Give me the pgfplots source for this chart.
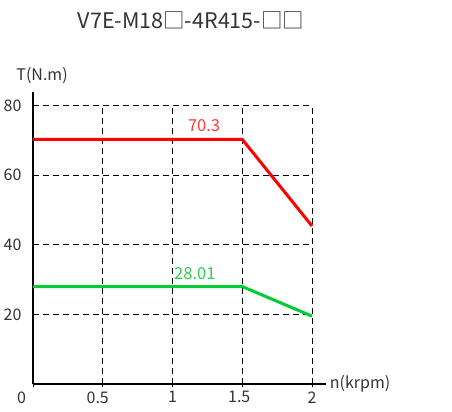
\documentclass[border=0pt]{standalone}
\usepackage{fontspec}
\setmainfont{Noto Sans CJK SC}
\usepackage{pgfplots}
\pgfplotsset{compat=1.18}
\definecolor{redline}{HTML}{FF0000}
\definecolor{greenline}{HTML}{00CC33}
\definecolor{redtxt}{HTML}{FF3B3B}
\definecolor{greentxt}{HTML}{2ECC55}
\definecolor{txt}{HTML}{333333}
\begin{document}
\begin{tikzpicture}[x=1bp,y=1bp]
\useasboundingbox (0,0) rectangle (452,411);
\node[text=txt,font=\fontsize{21.5bp}{24bp}\selectfont] at (191,391) {V7E-M18□-4R415-□□};
\begin{axis}[
  at={(33bp,27bp)}, anchor=origin,
  x=139.5bp, y=3.48bp,
  xmin=0, xmax=2.1, ymin=0, ymax=84,
  axis lines=left,
  axis line style={line width=2.2bp, black, -},
  xtick={0,0.5,1,1.5,2},
  xticklabels={\makebox[0pt][r]{0\hspace{7bp}},\makebox[0pt]{0.5\hspace{10bp}},1,\makebox[0pt]{1.5\hspace{6bp}},2},
  ytick={20,40,60,80},
  tick align=outside,
  major tick length=3bp,
  xtick style={black, line width=1bp},
  ytick style={draw=none},
  tick label style={text=txt, font=\fontsize{16bp}{18bp}\selectfont},
  /pgf/number format/assume math mode=true,
  xticklabel style={yshift=-1bp},
  yticklabel style={xshift=-5bp},
  clip=false,
]
% grid
\addplot[black, line width=0.9bp, dash pattern=on 6bp off 4bp] coordinates {(0,20) (2,20)};
\addplot[black, line width=0.9bp, dash pattern=on 6bp off 4bp] coordinates {(0,40) (2,40)};
\addplot[black, line width=0.9bp, dash pattern=on 6bp off 4bp] coordinates {(0,60) (2,60)};
\addplot[black, line width=0.9bp, dash pattern=on 6bp off 4bp] coordinates {(0,80) (2,80)};
\addplot[black, line width=0.9bp, dash pattern=on 6bp off 4bp] coordinates {(0.5,0) (0.5,80)};
\addplot[black, line width=0.9bp, dash pattern=on 6bp off 4bp] coordinates {(1,0) (1,80)};
\addplot[black, line width=0.9bp, dash pattern=on 6bp off 4bp] coordinates {(1.5,0) (1.5,80)};
\addplot[black, line width=0.9bp, dash pattern=on 6bp off 4bp] coordinates {(2,0) (2,80)};
% data
\addplot[redline, line width=3bp] coordinates {(0,70.3) (1.5,70.3) (2,45.4)};
\addplot[greenline, line width=3bp] coordinates {(0,28.01) (1.5,28.01) (2,19.5)};
\node[text=redtxt, font=\fontsize{16.5bp}{18bp}\selectfont] at (axis cs:1.226,74.2) {70.3};
\node[text=greentxt, font=\fontsize{16.5bp}{18bp}\selectfont] at (axis cs:1.16,31.8) {28.01};
\node[text=txt, font=\fontsize{16bp}{18bp}\selectfont] at (axis cs:0.065,88.5) {T(N.m)};
\node[text=txt, font=\fontsize{16bp}{18bp}\selectfont] at (axis cs:2.345,0.1) {n(krpm)};
\end{axis}
\end{tikzpicture}
\end{document}
